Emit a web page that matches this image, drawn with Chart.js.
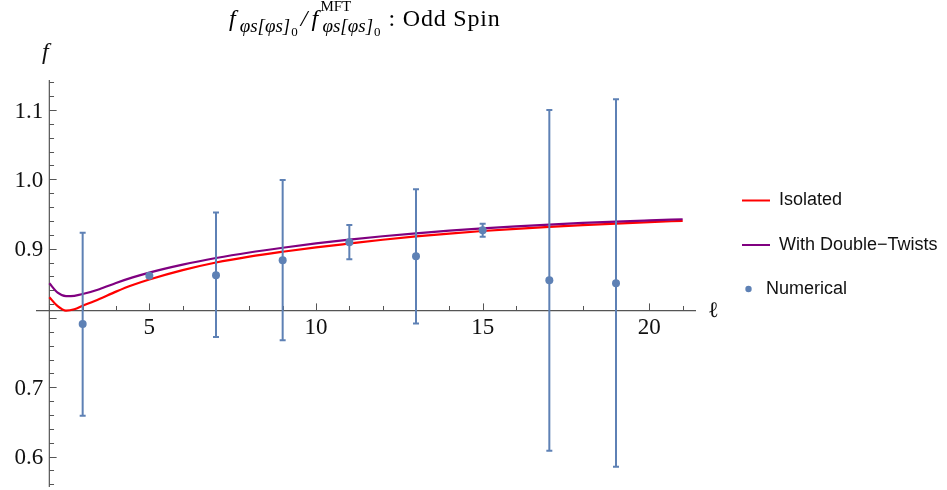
<!DOCTYPE html>
<html>
<head>
<meta charset="utf-8">
<script src="https://cdn.jsdelivr.net/npm/chart.js@4/dist/chart.umd.min.js"></script>
<style>
  html, body { margin: 0; padding: 0; background: #fff; }
  #wrap { width: 947px; height: 490px; position: relative; }
</style>
</head>
<body>
<div id="wrap"><canvas id="c"></canvas></div>
<script>
// Curves: OPE coefficient ratio vs spin ℓ
const ellGrid = [2, 2.25, 2.5, 2.75, 3, 3.5, 4, 4.5, 5, 6, 7, 8, 9, 10, 11, 12, 13, 14, 15, 16, 17, 18, 19, 20, 21];
const isolatedVals = [0.830, 0.817, 0.8105, 0.8125, 0.8175, 0.8275, 0.838, 0.8475, 0.8555, 0.869, 0.880, 0.8885, 0.8955, 0.9018, 0.9074, 0.9128, 0.9176, 0.9218, 0.9255, 0.9286, 0.9314, 0.9339, 0.9362, 0.9383, 0.9402];
const doubleTwistVals = [0.850, 0.8365, 0.8315, 0.832, 0.8345, 0.8415, 0.8505, 0.8585, 0.8655, 0.877, 0.8865, 0.8945, 0.9013, 0.9075, 0.9131, 0.9179, 0.9221, 0.9259, 0.9292, 0.9322, 0.9348, 0.9371, 0.9391, 0.9408, 0.9424];

// Numerical bootstrap estimates with error bars (odd spins)
const numEll = [3, 5, 7, 9, 11, 13, 15, 17, 19];
const numVals = [0.7912, 0.8608, 0.8618, 0.8833, 0.9092, 0.8890, 0.9266, 0.8543, 0.8500];
const numLow = [0.659, 0.8590, 0.7724, 0.7677, 0.8846, 0.7922, 0.9170, 0.6084, 0.5853];
const numHigh = [0.923, 0.8626, 0.952, 0.999, 0.934, 0.9856, 0.936, 1.100, 1.1154];

// Axis ticks
const xMajorTicks = [5, 10, 15, 20];
const xTickLabels = ['5', '10', '15', '20'];
const yMajorTicks = [0.6, 0.7, 0.9, 1.0, 1.1];
const yTickLabels = ['0.6', '0.7', '0.9', '1.0', '1.1'];

const legendLabels = ['Isolated', 'With Double\u2212Twists', 'Numerical'];

const X_MIN = 1.6, X_MAX = 21.4;
const Y_MIN = 0.5576, Y_MAX = 1.1433;
const AXIS_X_AT = 2;       // y-axis crosses at ℓ = 2
const AXIS_Y_AT = 0.8105;  // x-axis crosses at f = 0.8105

const RED = '#FF0000', PURPLE = '#800080', BLUE = '#5E81B5';
const AXIS_COLOR = '#555555';
const SERIF = '"Liberation Serif", "DejaVu Serif", serif';
const SANS = '"Liberation Sans", Arial, sans-serif';

const errorBars = {
  id: 'errorBars',
  beforeDatasetDraw(chart, args) {
    if (args.meta.label !== 'Numerical') return;
    const ctx = chart.ctx, xs = chart.scales.x, ys = chart.scales.y;
    ctx.save();
    ctx.strokeStyle = BLUE;
    ctx.lineWidth = 2;
    numEll.forEach((l, i) => {
      const px = xs.getPixelForValue(l);
      const top = ys.getPixelForValue(numHigh[i]);
      const bot = ys.getPixelForValue(numLow[i]);
      ctx.beginPath();
      ctx.moveTo(px, top); ctx.lineTo(px, bot);
      ctx.moveTo(px - 3, top); ctx.lineTo(px + 3, top);
      ctx.moveTo(px - 3, bot); ctx.lineTo(px + 3, bot);
      ctx.stroke();
    });
    ctx.restore();
  }
};

// draws a run of text and returns the x where the next run starts
function run(ctx, font, text, x, y) {
  ctx.font = font;
  ctx.fillText(text, x, y);
  return x + ctx.measureText(text).width;
}

const axesPlugin = {
  id: 'axesPlugin',
  beforeDatasetsDraw(chart) {
    const ctx = chart.ctx, xs = chart.scales.x, ys = chart.scales.y;
    const ax = xs.getPixelForValue(AXIS_X_AT);
    const ay = ys.getPixelForValue(AXIS_Y_AT);
    ctx.save();
    ctx.strokeStyle = AXIS_COLOR;
    ctx.lineWidth = 1.2;
    ctx.beginPath();
    ctx.moveTo(xs.left, ay); ctx.lineTo(xs.right, ay);
    ctx.moveTo(ax, ys.top); ctx.lineTo(ax, ys.bottom + 1);
    ctx.stroke();
    ctx.lineWidth = 1;
    ctx.beginPath();
    // x ticks (pointing up)
    for (let l = 2; l <= 21; l++) {
      const px = Math.round(xs.getPixelForValue(l)) + 0.5;
      const len = (l % 5 === 0) ? 7.3 : 4.7;
      ctx.moveTo(px, ay); ctx.lineTo(px, ay - len);
    }
    // y ticks (pointing right)
    for (let k = 28; k <= 57; k++) {
      const v = k / 50;
      const py = Math.round(ys.getPixelForValue(v)) + 0.5;
      const len = (k % 5 === 0) ? 7.3 : 4.7;
      ctx.moveTo(ax, py); ctx.lineTo(ax + len, py);
    }
    ctx.stroke();
    ctx.restore();
  },
  afterDraw(chart) {
    const ctx = chart.ctx, xs = chart.scales.x, ys = chart.scales.y;
    const ax = xs.getPixelForValue(AXIS_X_AT);
    const ay = ys.getPixelForValue(AXIS_Y_AT);
    ctx.save();
    ctx.fillStyle = '#111';
    ctx.font = '23px ' + SERIF;
    ctx.textBaseline = 'alphabetic';
    ctx.textAlign = 'center';
    xMajorTicks.forEach((v, i) => {
      ctx.fillText(xTickLabels[i], xs.getPixelForValue(v), ay + 23.5);
    });
    ctx.textAlign = 'right';
    yMajorTicks.forEach((v, i) => {
      ctx.fillText(yTickLabels[i], ax - 6, ys.getPixelForValue(v) + 7.5);
    });

    // axis labels
    ctx.textAlign = 'left';
    ctx.font = 'italic 24px ' + SERIF;
    ctx.fillText('f', 42, 59);
    ctx.font = '22px "DejaVu Serif", serif';
    ctx.fillText('\u2113', 708, 317);

    // title: f_{φs[φs]_0} / f^{MFT}_{φs[φs]_0} : Odd Spin
    ctx.fillStyle = '#000';
    const big = 'italic 24px ' + SERIF;
    const sub = 'italic 19px ' + SERIF;
    const sub0 = '13px ' + SERIF;
    let x = run(ctx, big, 'f', 229, 26);
    x = run(ctx, sub, '\u03C6s[\u03C6s]', x + 4, 32);
    x = run(ctx, sub0, '0', x + 1, 36);
    x = run(ctx, big, '/', x + 3, 26);
    const fx = x + 4;
    run(ctx, big, 'f', fx, 26);
    run(ctx, '15px ' + SERIF, 'MFT', fx + 9, 11);
    x = run(ctx, sub, '\u03C6s[\u03C6s]', fx + 11, 32);
    x = run(ctx, sub0, '0', x + 1, 36);
    ctx.letterSpacing = '0.8px';
    run(ctx, '24px ' + SERIF, ': Odd Spin', x + 8, 26);
    ctx.letterSpacing = '0px';

    // legend
    ctx.font = '18px ' + SANS;
    ctx.fillStyle = '#111';
    ctx.textBaseline = 'middle';
    ctx.lineWidth = 2;
    ctx.strokeStyle = RED;
    ctx.beginPath(); ctx.moveTo(742, 200.5); ctx.lineTo(770, 200.5); ctx.stroke();
    ctx.fillText(legendLabels[0], 779, 200);
    ctx.strokeStyle = PURPLE;
    ctx.beginPath(); ctx.moveTo(742, 245); ctx.lineTo(770, 245); ctx.stroke();
    ctx.fillText(legendLabels[1], 779, 245);
    ctx.fillStyle = BLUE;
    ctx.beginPath(); ctx.arc(748.5, 289, 3.2, 0, Math.PI * 2); ctx.fill();
    ctx.fillStyle = '#111';
    ctx.fillText(legendLabels[2], 766, 289);
    ctx.restore();
  }
};

new Chart(document.getElementById('c'), {
  type: 'line',
  data: {
    datasets: [
      {
        label: 'Numerical',
        type: 'scatter',
        data: numEll.map((l, i) => ({ x: l, y: numVals[i] })),
        showLine: false,
        pointRadius: 4,
        pointBackgroundColor: BLUE,
        pointBorderWidth: 0,
        order: 0
      },
      {
        label: 'With Double-Twists',
        data: ellGrid.map((l, i) => ({ x: l, y: doubleTwistVals[i] })),
        borderColor: PURPLE,
        borderWidth: 2.2,
        pointRadius: 0,
        cubicInterpolationMode: 'monotone',
        fill: false,
        order: 1
      },
      {
        label: 'Isolated',
        data: ellGrid.map((l, i) => ({ x: l, y: isolatedVals[i] })),
        borderColor: RED,
        borderWidth: 2.2,
        pointRadius: 0,
        cubicInterpolationMode: 'monotone',
        fill: false,
        order: 2
      }
    ]
  },
  options: {
    responsive: true,
    maintainAspectRatio: false,
    animation: false,
    events: [],
    layout: { padding: { left: 36, right: 251, top: 80, bottom: 4 } },
    scales: {
      x: { type: 'linear', min: X_MIN, max: X_MAX, display: false },
      y: { type: 'linear', min: Y_MIN, max: Y_MAX, display: false }
    },
    plugins: {
      legend: { display: false },
      title: { display: false },
      tooltip: { enabled: false }
    }
  },
  plugins: [errorBars, axesPlugin]
});
</script>
</body>
</html>
